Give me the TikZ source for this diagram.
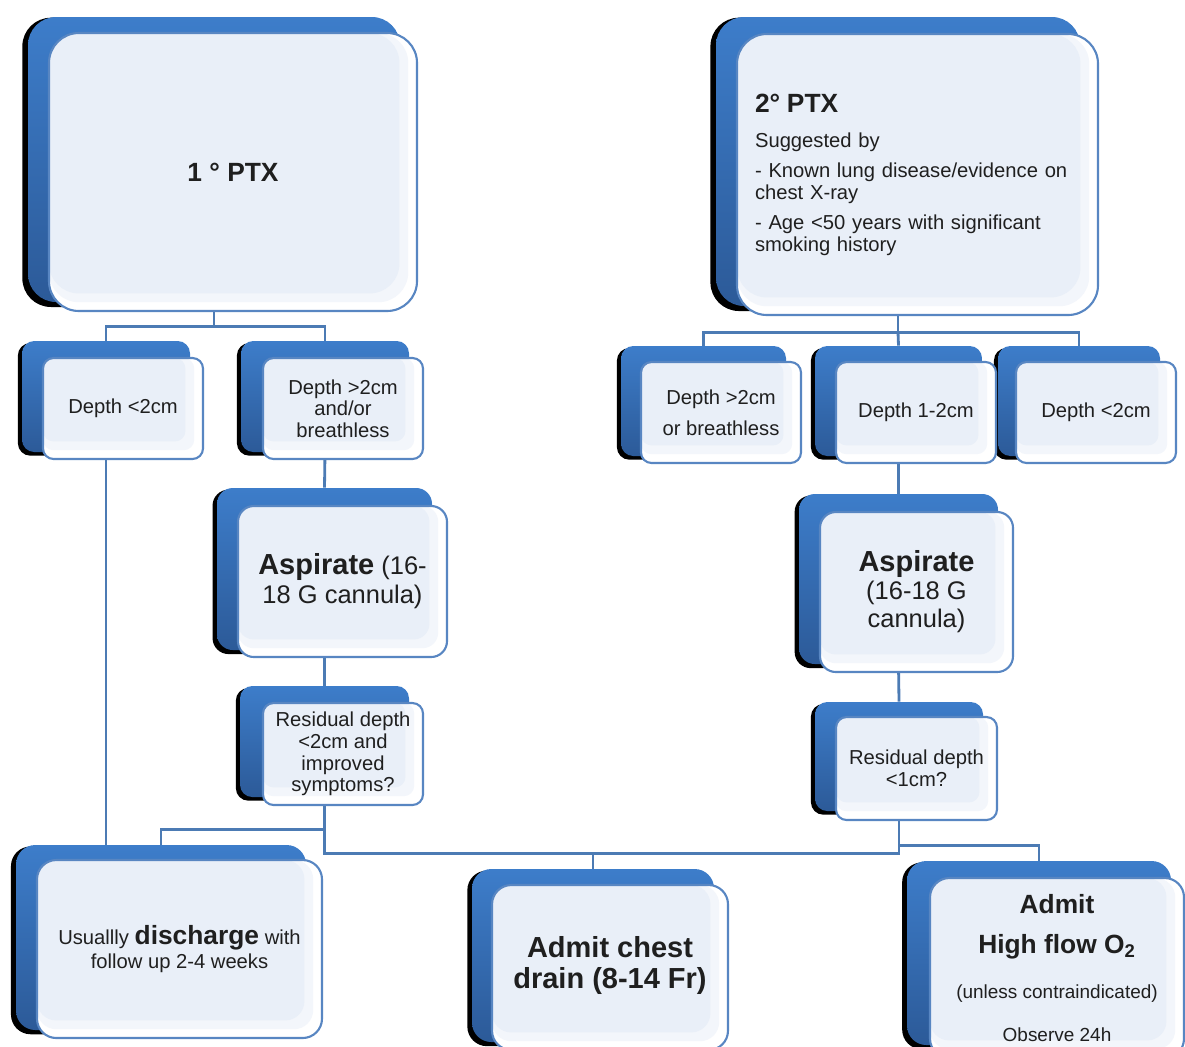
\documentclass[tikz,border=0pt]{standalone}
\usepackage{fontspec}
\setmainfont{Liberation Sans}
\usetikzlibrary{fit,shadows}

\definecolor{cardtop}{HTML}{3D7DCA}
\definecolor{cardbot}{HTML}{2C5A98}
\definecolor{faceblue}{HTML}{E9EFF8}
\definecolor{edgeblue}{HTML}{5886C2}
\definecolor{linkblue}{HTML}{4C7BB4}

\tikzset{
  back/.style={rounded corners=#1, inner sep=0pt, top color=cardtop, bottom color=cardbot,
    general shadow={fill=black, shadow xshift=-1.6pt, shadow yshift=-1.6pt, shadow scale=1.015}},
  back/.default=7pt,
  face/.style={rounded corners=#1, inner sep=0pt, fill=white, draw=edgeblue, line width=1.2pt,
    path picture={
      \fill[faceblue!55!white, rounded corners=#1] (path picture bounding box.north west) rectangle ([shift={(-5pt,5pt)}]path picture bounding box.south east);
      \fill[faceblue, rounded corners=#1] (path picture bounding box.north west) rectangle ([shift={(-10pt,10pt)}]path picture bounding box.south east);}},
  face/.default=6pt,
  txt/.style={inner sep=0pt, align=center, text=black!88, font=\fontsize{11.5}{12.3}\selectfont},
  link/.style={draw=linkblue, line width=1.6pt},
}

\begin{document}
\begin{tikzpicture}[x={(0.02cm,0cm)},y={(0cm,-0.02cm)}]
%氣胸處置流程
\path[use as bounding box, clip] (0,0) rectangle (1185,1046);

\node[back=16pt, fit={(28,17)(400,302)}] (p1b) {};
\node[back=16pt, fit={(716,17)(1080,306)}] (p2b) {};
\node[back, fit={(22,341)(190,452)}] (a1b) {};
\node[back, fit={(241,341)(409,452)}] (a2b) {};
\node[back, fit={(621,346)(786,456)}] (b1b) {};
\node[back, fit={(815,346)(982,456)}] (b2b) {};
\node[back, fit={(998,346)(1160,456)}] (b3b) {};
\node[back=9pt, fit={(217,488)(432,650)}] (s1b) {};
\node[back=9pt, fit={(799,494)(998,664)}] (s2b) {};
\node[back, fit={(240,686)(409,797)}] (r1b) {};
\node[back, fit={(815,702)(983,811)}] (r2b) {};
\node[back=11pt, fit={(16,845)(306,1030)}] (e1b) {};
\node[back=11pt, fit={(472,869)(714,1042)}] (e2b) {};
\node[back=11pt, fit={(907,861)(1171,1045)}] (e3b) {};

\draw[link] (p1b.south) -- ++(0,24) coordinate (j1);
\draw[link] (a1b.north) |- (j1) -| (a2b.north);
\draw[link] (a1b.south) -- (a1b.south |- e1b.north);
\draw[link] (a2b.south) -- (s1b.north);
\draw[link] (s1b.south) -- (r1b.north);
\draw[link] (r1b.south) -- ++(0,32) -| (e1b.north);
\draw[link] (r1b.south) -- ++(0,56) coordinate (j3) -- (j3 -| r2b.south) -- (r2b.south);
\draw[link] (e2b.north) -- (e2b.north |- j3);
\draw[link] (p2b.south) -- ++(0,26) coordinate (j2);
\draw[link] (b1b.north) |- (j2) -| (b3b.north);
\draw[link] (j2) -- (b2b.north);
\draw[link] (b2b.south) -- (s2b.north);
\draw[link] (s2b.south) -- (r2b.north);
\draw[link] (r2b.south) -- ++(0,34) -| (e3b.north);

\node[face=17pt, fit={(49,33)(417,311)}] (p1) {};
\node[face=17pt, fit={(737,34)(1098,315)}] (p2) {};
\node[face, fit={(43,358)(203,459)}] (a1) {};
\node[face, fit={(263,358)(423,459)}] (a2) {};
\node[face, fit={(641,362)(801,463)}] (b1) {};
\node[face, fit={(836,362)(996,463)}] (b2) {};
\node[face, fit={(1016,362)(1176,463)}] (b3) {};
\node[face=9pt, fit={(238,506)(447,657)}] (s1) {};
\node[face=9pt, fit={(820,512)(1013,672)}] (s2) {};
\node[face, fit={(263,703)(423,805)}] (r1) {};
\node[face, fit={(836,717)(997,820)}] (r2) {};
\node[face=11pt, fit={(37,860)(322,1038)}] (e1) {};
\node[face=11pt, fit={(492,885)(728,1050)}] (e2) {};
\node[face=11pt, fit={(930,878)(1184,1058)}] (e3) {};

\node[txt, font=\bfseries\fontsize{15}{18}\selectfont] (p1t) at (p1) {1 ° PTX};
\node[txt, text width=6.5cm, align=left] (p2t) at (p2) {{\bfseries\fontsize{15}{12.3}\selectfont 2° PTX}\\[7.5pt]Suggested by\\[5pt]- Known lung disease/evidence on\\chest X-ray\\[5pt]- Age <50 years with significant\\smoking history};
\node[txt] (a1t) at (a1) {Depth <2cm};
\node[txt] (a2t) at (a2) {Depth >2cm\\and/or\\breathless};
\node[txt] (b1t) at (b1) {Depth >2cm\\[5.3pt]or breathless};
\node[txt] (b2t) at (b2) {Depth 1-2cm};
\node[txt] (b3t) at (b3) {Depth <2cm};
\node[txt, font=\fontsize{14.5}{16.4}\selectfont] (s1t) at (s1) {{\bfseries\fontsize{16.5}{16.4}\selectfont Aspirate} (16-\\18 G cannula)};
\node[txt, font=\fontsize{14.5}{15.9}\selectfont] (s2t) at (s2) {{\bfseries\fontsize{16.5}{15.9}\selectfont Aspirate}\\(16-18 G\\cannula)};
\node[txt] (r1t) at (r1) {Residual depth\\<2cm and\\improved\\symptoms?};
\node[txt] (r2t) at (r2) {Residual depth\\<1cm?};
\node[txt, font=\fontsize{11.5}{13.6}\selectfont] (e1t) at (e1) {Usuallly {\bfseries\fontsize{15}{13.6}\selectfont discharge} with\\follow up 2-4 weeks};
\node[txt, font=\bfseries\fontsize{16.5}{17.6}\selectfont] (e2t) at ([yshift=1pt]e2.center) {Admit chest\\drain (8-14 Fr)};
\node[txt, font=\fontsize{10.8}{13}\selectfont] (e3t) at (e3) {{\bfseries\fontsize{15}{13}\selectfont Admit}\\[9.7pt]{\bfseries\fontsize{15}{13}\selectfont High flow O\textsubscript{2}}\\[12.5pt](unless contraindicated)\\[11.4pt]Observe 24h};
\end{tikzpicture}
\end{document}
